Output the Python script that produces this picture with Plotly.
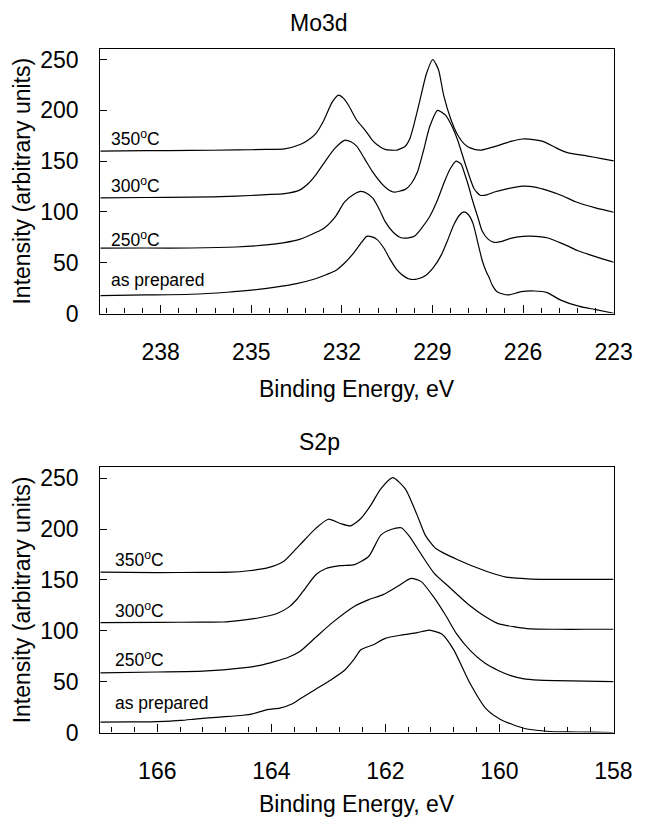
import plotly.graph_objects as go

# ---------------- Mo3d data (binding energy eV, intensity) ----------------
mo_as_x = [240.0, 238.5, 237.0, 235.8, 235.0, 234.2, 233.5, 232.9, 232.5, 232.2, 231.9, 231.64, 231.35,
           231.18, 231.0, 230.84, 230.6, 230.44, 230.2, 230.04, 229.77, 229.5, 229.2, 228.96, 228.7, 228.5,
           228.3, 228.1, 227.95, 227.8, 227.65, 227.5, 227.35, 227.2, 227.13, 227.02, 226.86, 226.7, 226.49,
           226.06, 225.63, 225.2, 224.77, 224.13, 223.59, 223.0]
mo_as_y = [17.7, 18.3, 19.0, 21.0, 23.0, 26.0, 29.5, 34.0, 38.5, 42.4, 50.0, 58.5, 70.0,
           76.0, 75.5, 73.0, 64.0, 55.3, 44.0, 39.0, 34.0, 34.0, 38.0, 45.6, 58.0, 72.0,
           87.0, 97.0, 100.0, 97.0, 88.0, 70.0, 52.0, 40.0, 36.0, 28.0, 21.5, 19.5, 18.3,
           21.5, 22.2, 20.6, 13.5, 7.0, 3.9, 0.3]

mo_250_x = [240.0, 238.5, 237.0, 235.5, 234.5, 233.9, 233.4, 232.85, 232.58, 232.2, 231.91, 231.6, 231.37,
            231.15, 230.97, 230.75, 230.57, 230.3, 230.04, 229.8, 229.6, 229.36, 229.1, 228.83, 228.6, 228.42,
            228.22, 228.05, 227.95, 227.8, 227.69, 227.5, 227.35, 227.15, 226.95, 226.7, 226.41, 226.0, 225.74,
            225.4, 225.2, 224.8, 224.53, 224.2, 223.86, 223.4, 223.0]
mo_250_y = [64.3, 64.5, 64.5, 65.5, 67.5, 69.8, 73.0, 80.0, 84.3, 96.0, 110.0, 117.5, 120.3,
            118.0, 113.3, 102.0, 90.7, 80.0, 74.6, 74.5, 76.0, 84.0, 95.0, 112.0, 130.0, 142.0,
            150.0, 147.0, 139.0, 125.0, 113.0, 95.0, 81.0, 73.0, 70.0, 71.0, 74.0, 76.0, 76.2,
            75.5, 74.6, 70.0, 66.6, 62.0, 58.5, 54.0, 50.5]

mo_300_x = [240.0, 238.5, 237.0, 235.5, 234.5, 233.9, 233.4, 233.12, 232.85, 232.58, 232.25, 231.91, 231.7,
            231.51, 231.24, 230.97, 230.57, 230.3, 229.9, 229.7, 229.5, 229.3, 229.09, 228.83, 228.56, 228.35,
            228.17, 227.89, 227.62, 227.42, 227.2, 226.95, 226.5, 226.01, 225.6, 225.2, 224.7, 224.26, 223.6,
            223.0]
mo_300_y = [113.9, 114.2, 114.5, 115.5, 117.0, 118.0, 121.5, 127.7, 137.0, 148.6, 162.0, 170.5, 169.0,
            164.7, 152.0, 139.0, 124.5, 119.6, 122.2, 128.0, 139.0, 160.0, 184.0, 200.0, 195.0, 184.0,
            171.0, 145.0, 122.8, 116.4, 116.8, 119.6, 123.0, 125.4, 124.5, 121.2, 116.0, 110.0, 104.0,
            99.7]

mo_350_x = [240.0, 238.5, 237.0, 235.5, 234.5, 233.9, 233.38, 233.1, 232.85, 232.6, 232.32, 232.11, 231.95,
            231.78, 231.5, 231.24, 231.0, 230.84, 230.57, 230.17, 229.9, 229.75, 229.63, 229.43, 229.2, 228.99,
            228.8, 228.63, 228.4, 228.17, 227.95, 227.75, 227.42, 227.1, 226.81, 226.4, 226.01, 225.6, 225.34,
            224.9, 224.53, 223.86, 223.4, 223.0]
mo_350_y = [159.9, 160.3, 160.5, 161.0, 161.5, 162.1, 166.3, 171.0, 177.6, 190.0, 208.0, 215.0, 212.0,
            205.0, 190.0, 180.8, 171.0, 166.3, 161.5, 160.9, 164.7, 172.0, 184.0, 208.0, 236.0, 250.0,
            240.0, 215.0, 192.0, 176.0, 167.0, 163.0, 160.8, 163.0, 165.5, 169.5, 171.8, 171.0, 169.5,
            163.0, 158.3, 155.0, 152.5, 150.2]

# ---------------- S2p data ----------------
s_as_x = [167.0, 166.5, 166.0, 165.58, 165.3, 164.9, 164.5, 164.33, 164.07, 163.85, 163.64, 163.5, 163.22,
          162.95, 162.72, 162.55, 162.43, 162.22, 162.0, 161.72, 161.44, 161.23, 161.01, 160.8, 160.52, 160.23,
          159.98, 159.59, 159.17, 158.81, 158.4, 158.0]
s_as_y = [10.3, 10.5, 10.8, 11.9, 13.5, 15.2, 17.0, 18.4, 22.6, 24.0, 28.0, 33.0, 42.6,
          52.0, 61.0, 72.0, 81.3, 86.1, 92.6, 95.8, 98.1, 100.6, 96.8, 81.3, 49.0, 23.2,
          12.9, 4.5, 1.3, 0.6, 0.5, 0.0]

s_250_x = [167.0, 166.0, 165.2, 164.5, 164.2, 163.93, 163.7, 163.5, 163.22, 162.93, 162.54, 162.29, 162.04,
           161.79, 161.55, 161.37, 161.15, 160.94, 160.75, 160.5, 160.25, 160.02, 159.8, 159.59, 159.31,
           159.0, 158.5, 158.0]
s_250_y = [58.7, 59.5, 60.3, 63.5, 66.0, 70.0, 74.0, 79.6, 93.6, 108.0, 124.2, 130.6, 135.5,
           143.5, 151.5, 148.3, 133.0, 115.0, 97.0, 80.0, 68.0, 61.0, 56.0, 53.0, 51.5,
           51.0, 50.5, 50.0]

s_300_x = [167.0, 166.0, 165.2, 164.85, 164.5, 164.21, 163.9, 163.7, 163.55, 163.4, 163.22, 163.05, 162.79,
           162.54, 162.29, 162.08, 161.9, 161.72, 161.58, 161.37, 161.15, 160.87, 160.52, 160.25, 160.02,
           159.75, 159.52, 159.0, 158.5, 158.0]
s_300_y = [108.0, 108.3, 108.5, 108.6, 110.5, 112.8, 117.0, 123.0, 131.0, 142.0, 155.0, 161.0, 164.0,
           165.0, 173.2, 194.0, 199.5, 201.2, 193.0, 175.0, 157.0, 142.5, 124.8, 114.0, 107.0,
           104.0, 102.2, 101.5, 101.5, 101.5]

s_350_x = [167.0, 166.0, 165.2, 164.71, 164.4, 164.07, 163.78, 163.5, 163.22, 163.0, 162.79, 162.61, 162.43,
           162.26, 162.08, 161.87, 161.65, 161.44, 161.3, 161.12, 160.73, 160.23, 159.88, 159.5, 159.17,
           158.5, 158.0]
s_350_y = [157.6, 157.2, 157.4, 157.6, 159.0, 161.8, 168.3, 184.4, 200.6, 209.6, 205.4, 203.1, 210.3,
           223.0, 239.5, 250.5, 239.5, 213.4, 194.0, 181.1, 169.8, 158.5, 152.7, 151.0, 150.5,
           150.5, 150.5]

series_labels = ["as prepared", "250<sup>o</sup>C", "300<sup>o</sup>C", "350<sup>o</sup>C"]
mo_label_y = [21.0, 60.6, 113.7, 160.3]
s_label_y = [17.0, 59.2, 107.5, 157.4]
panel_titles = ["Mo3d", "S2p"]
x_title = "Binding Energy, eV"
y_title = "Intensity (arbitrary units)"

FONT = "Liberation Sans, Arial, Helvetica, sans-serif"
W, H = 654, 830

fig = go.Figure()
mo_sets = [(mo_as_x, mo_as_y), (mo_250_x, mo_250_y), (mo_300_x, mo_300_y), (mo_350_x, mo_350_y)]
s_sets = [(s_as_x, s_as_y), (s_250_x, s_250_y), (s_300_x, s_300_y), (s_350_x, s_350_y)]
for xs, ys in mo_sets:
    fig.add_trace(go.Scatter(x=xs, y=ys, mode="lines", xaxis="x", yaxis="y",
                             line=dict(color="black", width=1.2, shape="spline", smoothing=0.6),
                             hoverinfo="skip"))
for xs, ys in s_sets:
    fig.add_trace(go.Scatter(x=xs, y=ys, mode="lines", xaxis="x2", yaxis="y2",
                             line=dict(color="black", width=1.2, shape="spline", smoothing=0.6),
                             hoverinfo="skip"))

left_px, right_px = 103.3, 632.3
xdom = [left_px / W, right_px / W]
top_dom = [(H - 317.3) / H, (H - 47.7) / H]
bot_dom = [(H - 744.0) / H, (H - 474.0) / H]


def xax(dom_anchor, rng, t0, dt, mdt):
    return dict(domain=xdom, anchor=dom_anchor, range=rng, tickmode="linear", tick0=t0, dtick=dt,
                ticks="inside", ticklen=8, tickwidth=1, tickcolor="black",
                showline=True, linecolor="black", linewidth=1.2, mirror=True,
                showgrid=False, zeroline=False,
                tickfont=dict(family=FONT, size=23, color="black"), ticklabelstandoff=18,
                minor=dict(tick0=t0, dtick=mdt, ticks="inside", ticklen=5, tickwidth=1, tickcolor="black",
                           showgrid=False))


def yax(dom, anchor):
    return dict(domain=dom, anchor=anchor, range=[0, 260.5], tickmode="linear", tick0=0, dtick=50,
                ticks="inside", ticklen=7, tickwidth=1, tickcolor="black",
                showline=True, linecolor="black", linewidth=1.2, mirror=True,
                showgrid=False, zeroline=False,
                tickfont=dict(family=FONT, size=23, color="black"), ticklabelstandoff=16)


fig.update_layout(
    width=W, height=H, margin=dict(l=0, r=0, t=0, b=0),
    paper_bgcolor="white", plot_bgcolor="white", showlegend=False,
    font=dict(family=FONT, color="black"),
    xaxis=xax("y", [240, 222.99], 238, 3, 0.6),
    yaxis=yax(top_dom, "x"),
    xaxis2=xax("y2", [167, 157.99], 166, 2, 0.4),
    yaxis2=yax(bot_dom, "x2"),
)

ann = []
for lab, yv in zip(series_labels, mo_label_y):
    ann.append(dict(x=239.72, y=yv, xref="x", yref="y", text=lab, showarrow=False,
                    xanchor="left", yanchor="bottom", font=dict(family=FONT, size=17.5, color="black")))
for lab, yv in zip(series_labels, s_label_y):
    ann.append(dict(x=166.78, y=yv, xref="x2", yref="y2", text=lab, showarrow=False,
                    xanchor="left", yanchor="bottom", font=dict(family=FONT, size=17.5, color="black")))
for t, ypx in zip(panel_titles, [21.7, 448.0]):
    ann.append(dict(x=329 / W, y=(H - ypx) / H, xref="paper", yref="paper", text=t, showarrow=False,
                    xanchor="center", yanchor="middle", font=dict(family=FONT, size=23, color="black")))
for ypx in [394.0, 817.0]:
    ann.append(dict(x=(left_px + right_px) / 2 / W, y=(H - ypx) / H, xref="paper", yref="paper",
                    text=x_title, showarrow=False, xanchor="center", yanchor="middle",
                    font=dict(family=FONT, size=23, color="black")))
for ypx in [182.5, 609.0]:
    ann.append(dict(x=23 / W, y=(H - ypx) / H, xref="paper", yref="paper", text=y_title,
                    textangle=-90, showarrow=False, xanchor="center", yanchor="middle",
                    font=dict(family=FONT, size=23, color="black")))
fig.update_layout(annotations=ann)

fig.write_html("out.html")
